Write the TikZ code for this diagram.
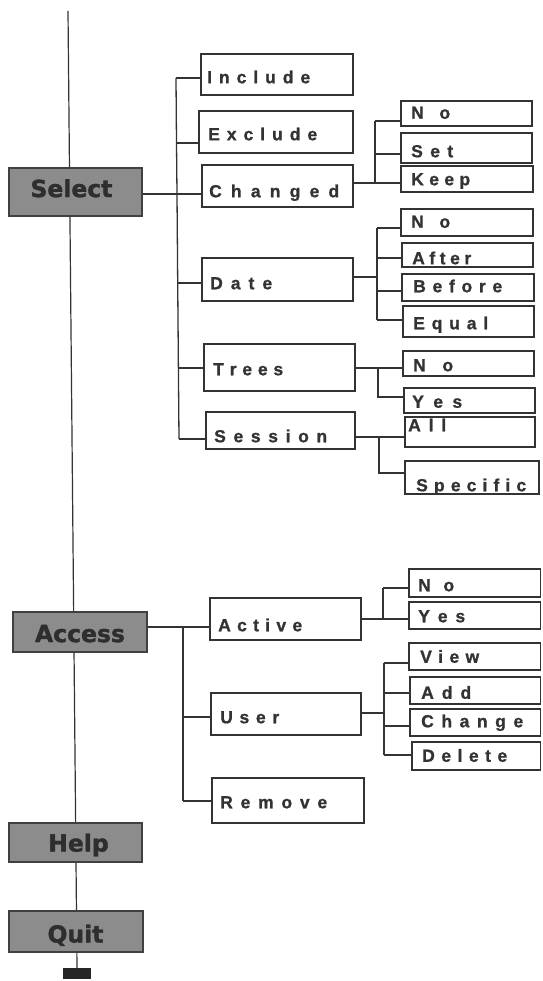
\documentclass[tikz,border=0pt]{standalone}
\usepackage{fontspec}
\setmainfont{Liberation Sans}[BoldFeatures={FakeBold=1}]
\newfontfamily\mainbf{DejaVu Sans}[BoldFeatures={FakeBold=1.5}]
\usetikzlibrary{fit,backgrounds}
\definecolor{ink}{HTML}{333333}
\definecolor{boxgray}{HTML}{8C8C8C}
\makeatletter
\newcommand\spr[2]{\makebox[#1pt][s]{\spr@a#2\relax}}
\def\spr@a#1{#1\spr@b}
\def\spr@b#1{\ifx#1\relax\else\hfil#1\expandafter\spr@b\fi}
\makeatother
\tikzset{
 conn/.style={draw=ink, line width=1.3pt},
 obox/.style={draw=ink, line width=1.3pt, fill=white, inner sep=0pt},
 mbox/.style={draw=black!75, line width=1.5pt, fill=boxgray, inner sep=0pt},
 lbl/.style={inner sep=0pt, anchor=west, text=ink, font=\fontsize{17.5}{17.5}\selectfont\bfseries, text height=12.5pt, text depth=0pt},
 mlbl/.style={inner sep=0pt, text=black!82, font=\mainbf\fontsize{23.5}{23.5}\selectfont\bfseries, text height=17.1pt, text depth=0pt},
 barbox/.style={fill=black!85, inner sep=0pt},
}
\begin{document}
\begin{tikzpicture}[x=1pt,y=-1pt]
\useasboundingbox (0,0) rectangle (542,981);
% main menu boxes
\node[mbox, fit={(9,168) (142,216)}] (select) {};
\node[mbox, fit={(13,612) (147,652)}] (access) {};
\node[mbox, fit={(9,823) (142,862)}] (help) {};
\node[mbox, fit={(9,911) (143,952)}] (quit) {};
\node[barbox, fit={(63,968) (91,979)}] (bar) {};
\node[mlbl] (select-t) at (71.5,188.5) {Select};
\node[mlbl] (access-t) at (80,633.5) {Access};
\node[mlbl] (help-t) at (78.5,843) {Help};
\node[mlbl] (quit-t) at (75.5,934) {Quit};
\coordinate (top) at (68,11);
\begin{scope}[on background layer]
\fill[white] (0,0) rectangle (542,981);
\draw[conn, line width=1.2pt] (top) -- (bar.north);
\end{scope}
% Select children
\node[obox, fit={(201,54) (353,95)}] (include) {};
\node[obox, fit={(199,111) (353,153)}] (exclude) {};
\node[obox, fit={(202,165) (353,207)}] (changed) {};
\node[obox, fit={(202,258) (353,301)}] (date) {};
\node[obox, fit={(204,344) (355,391)}] (trees) {};
\node[obox, fit={(206,412) (355,449)}] (session) {};
\node[lbl] (include-t) at (207,77) {\spr{103}{Include}};
\node[lbl] (exclude-t) at (208,134) {\spr{109}{Exclude}};
\node[lbl] (changed-t) at (209,191) {\spr{130}{Changed}};
\node[lbl] (date-t) at (210,283) {\spr{62}{Date}};
\node[lbl] (trees-t) at (213,369) {\spr{70}{Trees}};
\node[lbl] (session-t) at (214,436) {\spr{113}{Session}};
% Changed children
\node[obox, fit={(401,101) (532,126)}] (cno) {};
\node[obox, fit={(401,133) (532,163)}] (cset) {};
\node[obox, fit={(401,166) (533,192)}] (ckeep) {};
\node[lbl] (cno-t) at (411,112.5) {\spr{39}{No}};
\node[lbl] (cset-t) at (411,151) {\spr{42}{Set}};
\node[lbl] (ckeep-t) at (411,179) {\spr{59}{Keep}};
% Date children
\node[obox, fit={(401,209) (533,236)}] (dno) {};
\node[obox, fit={(402,243) (533,267)}] (dafter) {};
\node[obox, fit={(402,274) (534,301)}] (dbefore) {};
\node[obox, fit={(403,306) (534,337)}] (dequal) {};
\node[lbl] (dno-t) at (411,221.5) {\spr{39}{No}};
\node[lbl] (dafter-t) at (412,258) {\spr{59}{After}};
\node[lbl] (dbefore-t) at (413,286) {\spr{89}{Before}};
\node[lbl] (dequal-t) at (413,323) {\spr{75}{Equal}};
% Trees children
\node[obox, fit={(403,351) (534,376)}] (tno) {};
\node[obox, fit={(404,388) (535,413)}] (tyes) {};
\node[lbl] (tno-t) at (413,365) {\spr{40}{No}};
\node[lbl] (tyes-t) at (412,401.5) {\spr{50}{Yes}};
% Session children
\node[obox, fit={(405,417) (535,447)}] (sall) {};
\node[obox, fit={(405,461) (539,494)}] (sspec) {};
\node[lbl] (sall-t) at (408,425) {\spr{38}{All}};
\node[lbl] (sspec-t) at (416,485) {\spr{110}{Specific}};
% Access children
\node[obox, fit={(210,598) (361,640)}] (active) {};
\node[obox, fit={(211,693) (361,735)}] (user) {};
\node[obox, fit={(212,778) (364,823)}] (remove) {};
\node[lbl] (active-t) at (218,625) {\spr{84}{Active}};
\node[lbl] (user-t) at (220,717) {\spr{59}{User}};
\node[lbl] (remove-t) at (220,802) {\spr{107}{Remove}};
% Active children
\node[obox, fit={(409,569) (540.5,597)}] (ano) {};
\node[obox, fit={(409,602) (540.5,629)}] (ayes) {};
\node[lbl] (ano-t) at (418,585) {\spr{36}{No}};
\node[lbl] (ayes-t) at (418,616) {\spr{47}{Yes}};
% User children
\node[obox, fit={(409,643) (540.5,670)}] (uview) {};
\node[obox, fit={(410,677) (540.5,704)}] (uadd) {};
\node[obox, fit={(410,709) (540.5,736)}] (uchange) {};
\node[obox, fit={(412,742) (540.5,770)}] (udelete) {};
\node[lbl] (uview-t) at (420,656.5) {\spr{59}{View}};
\node[lbl] (uadd-t) at (421,692.5) {\spr{50}{Add}};
\node[lbl] (uchange-t) at (421,721) {\spr{102}{Change}};
\node[lbl] (udelete-t) at (422,755.5) {\spr{85}{Delete}};
% Select branch
\coordinate (sb1) at (176,78);
\coordinate (sb2) at (176.5,143);
\coordinate (sb3) at (177,194);
\coordinate (sb4) at (177.7,283);
\coordinate (sb5) at (178.4,368);
\coordinate (sb6) at (179,439);
\draw[conn] (sb1) -- (sb2) -- (sb3) -- (sb4) -- (sb5) -- (sb6);
\draw[conn] (select.east |- sb3) -- (sb3 -| changed.west);
\draw[conn] (sb1) -- (sb1 -| include.west);
\draw[conn] (sb2) -- (sb2 -| exclude.west);
\draw[conn] (sb4) -- (sb4 -| date.west);
\draw[conn] (sb5) -- (sb5 -| trees.west);
\draw[conn] (sb6) -- (sb6 -| session.west);
% Changed branch
\coordinate (cb0) at (375,183);
\coordinate (cb1) at (375,121);
\coordinate (cb2) at (375,154);
\draw[conn] (changed.east |- cb0) -- (cb0 -| ckeep.west);
\draw[conn] (cb1) -- (cb0);
\draw[conn] (cb1) -- (cb1 -| cno.west);
\draw[conn] (cb2) -- (cb2 -| cset.west);
% Date branch
\coordinate (db0) at (377,277);
\coordinate (db1) at (377,228);
\coordinate (db2) at (377,258);
\coordinate (db3) at (377,291);
\coordinate (db4) at (377,320);
\draw[conn] (date.east |- db0) -- (db0);
\draw[conn] (db1) -- (db4);
\draw[conn] (db1) -- (db1 -| dno.west);
\draw[conn] (db2) -- (db2 -| dafter.west);
\draw[conn] (db3) -- (db3 -| dbefore.west);
\draw[conn] (db4) -- (db4 -| dequal.west);
% Trees branch
\coordinate (tb1) at (378,368);
\coordinate (tb2) at (378,397);
\draw[conn] (trees.east |- tb1) -- (tb1 -| tno.west);
\draw[conn] (tb1) -- (tb2) -- (tb2 -| tyes.west);
% Session branch
\coordinate (ssb1) at (379,437);
\coordinate (ssb2) at (379,473);
\draw[conn] (session.east |- ssb1) -- (ssb1 -| sall.west);
\draw[conn] (ssb1) -- (ssb2) -- (ssb2 -| sspec.west);
% Access branch
\coordinate (ab1) at (183,627);
\coordinate (ab2) at (183,717);
\coordinate (ab3) at (183,801);
\draw[conn] (access.east |- ab1) -- (ab1 -| active.west);
\draw[conn] (ab1) -- (ab3);
\draw[conn] (ab2) -- (ab2 -| user.west);
\draw[conn] (ab3) -- (ab3 -| remove.west);
% Active branch
\coordinate (acb0) at (383,619);
\coordinate (acb1) at (383,588);
\draw[conn] (active.east |- acb0) -- (acb0 -| ayes.west);
\draw[conn] (acb1) -- (acb0);
\draw[conn] (acb1) -- (acb1 -| ano.west);
% User branch
\coordinate (ub0) at (384,713);
\coordinate (ub1) at (384,663);
\coordinate (ub2) at (384,693);
\coordinate (ub3) at (384,726);
\coordinate (ub4) at (384,755);
\draw[conn] (user.east |- ub0) -- (ub0);
\draw[conn] (ub1) -- (ub4);
\draw[conn] (ub1) -- (ub1 -| uview.west);
\draw[conn] (ub2) -- (ub2 -| uadd.west);
\draw[conn] (ub3) -- (ub3 -| uchange.west);
\draw[conn] (ub4) -- (ub4 -| udelete.west);
\end{tikzpicture}
\end{document}
